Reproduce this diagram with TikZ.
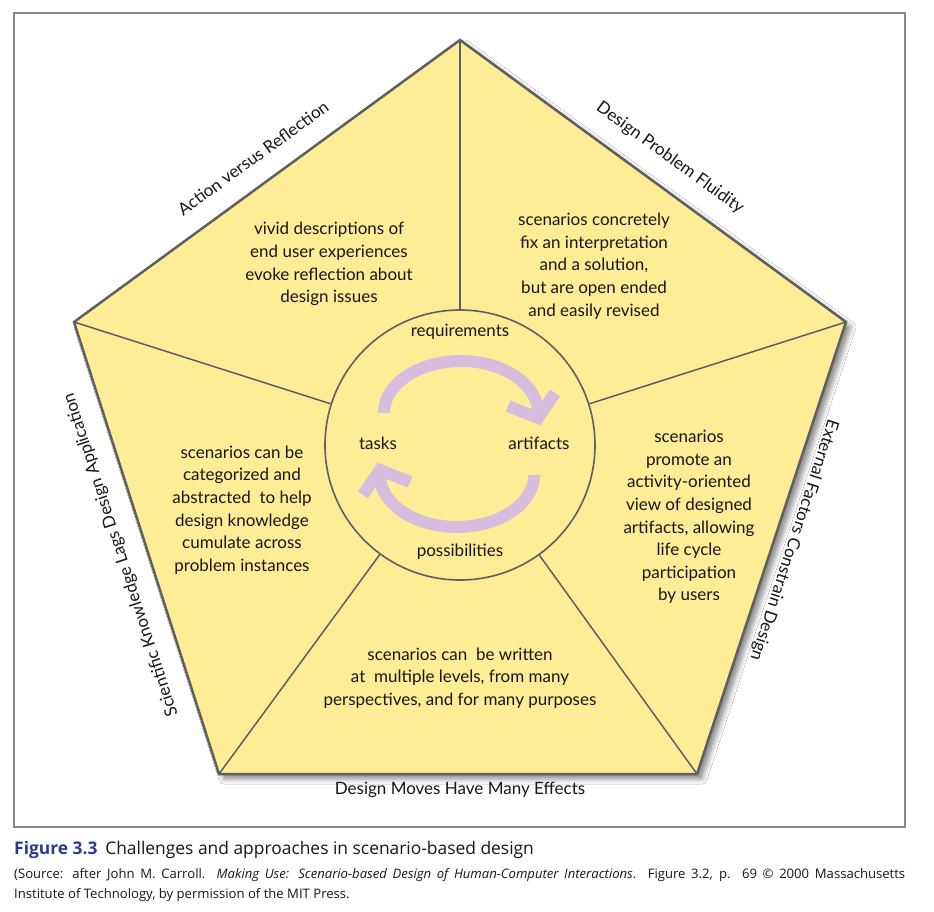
\documentclass[tikz,border=0pt]{standalone}
\usepackage{fontspec}
\setmainfont{Lato}
\newfontfamily\capfont{Open Sans}
\usetikzlibrary{shadows.blur}
\definecolor{pentfill}{RGB}{255,236,150}
\definecolor{edgegray}{RGB}{95,95,95}
\definecolor{framegray}{RGB}{135,135,135}
\definecolor{cyclepurple}{RGB}{216,190,222}
\definecolor{figblue}{RGB}{40,60,150}
\definecolor{txt}{RGB}{25,22,23}
\begin{document}
\begin{tikzpicture}[x=1pt,y=-1pt,
  body/.style={font=\fontsize{17}{22.6}\selectfont, text=txt, align=center, inner sep=0pt},
  edgelabel/.style={font=\fontsize{17}{20}\selectfont, text=txt, inner sep=0pt},
  spoke/.style={draw=edgegray, line width=1.5pt},
  cyclebar/.style={draw=cyclepurple, line width=12pt},
  capstyle/.style={font=\capfont\fontsize{17.4}{20}\selectfont, text=txt, inner sep=0pt},
  srcstyle/.style={font=\capfont\fontsize{13.1}{20}\selectfont, text=txt, inner sep=0pt, align=left},
]
\useasboundingbox[fill=white] (0,0) rectangle (934,911);
\draw[line width=2pt, draw=framegray] (14,13) rectangle (905,827);

\coordinate (vT) at (460,40);
\coordinate (vR) at (846,322);
\coordinate (vBR) at (697,774);
\coordinate (vBL) at (219,774);
\coordinate (vL) at (74,322);

\fill[pentfill, blur shadow={shadow xshift=5pt, shadow yshift=-5pt, shadow blur radius=5pt, shadow opacity=45}]
  (vT) -- (vR) -- (vBR) -- (vBL) -- (vL) -- cycle;

\node[circle, minimum size=270pt, inner sep=0pt, draw=edgegray, fill=pentfill, line width=1.6pt] (hub) at (460,445) {};

\draw[spoke] (vT) -- (hub);
\draw[spoke] (vR) -- (hub);
\draw[spoke] (vBR) -- (hub);
\draw[spoke] (vBL) -- (hub);
\draw[spoke] (vL) -- (hub);

\draw[draw=edgegray, line width=2.5pt, line join=miter] (vT) -- (vR) -- (vBR) -- (vBL) -- (vL) -- cycle;

% cycle arrows
\draw[cyclebar] plot[domain=180:360, samples=60] ({461+77*cos(\x)},{413+52*sin(\x)});
\draw[cyclebar, line join=miter] (508,406) -- (538,418) -- (555,393);
\draw[cyclebar] plot[domain=0:180, samples=60] ({457+77*cos(\x)},{475+52*sin(\x)});
\draw[cyclebar, line join=miter] (410,482) -- (380,470) -- (363,495);

% circle labels
\node[body] (req) at (460,332) {requirements};
\node[body] (tasks) at (378,443) {tasks};
\node[body] (arts) at (539,443) {artifacts};
\node[body] (poss) at (460,552) {possibilities};

% segment texts
\node[body] (tl) at (329,264) {vivid descriptions of\\end user experiences\\evoke reflection about\\design issues};
\node[body] (tr) at (594,266) {scenarios concretely\\fix an interpretation\\and a solution,\\but are open ended\\and easily revised};
\node[body] (rt) at (689,517) {scenarios\\promote an\\activity-oriented\\view of designed\\artifacts, allowing\\life cycle\\participation\\by users};
\node[body] (bt) at (460,678) {scenarios can\ \ be written\\at\ \ multiple levels, from many\\perspectives, and for many purposes};
\node[body] (lt) at (242,510) {scenarios can be\\categorized and\\abstracted\ \ to help\\design knowledge\\cumulate across\\problem instances};

% edge labels
\node[edgelabel, rotate=36] (eAR) at (253,158) {Action versus Reflection};
\node[edgelabel, rotate=-36] (eDP) at (670,158) {Design Problem Fluidity};
\node[edgelabel, rotate=-108] (eEF) at (794,540) {External Factors Constrain Design};
\node[edgelabel] (eDM) at (460,790) {Design Moves Have Many Effects};
\node[edgelabel, rotate=108] (eSK) at (121,555) {Scientific Knowledge Lags Design Application};

% caption
\node[capstyle, anchor=base west] (cap) at (14,854) {\textcolor{figblue}{\textbf{Figure 3.3}}\hspace{0.45em}Challenges and approaches in scenario-based design};
\node[srcstyle, anchor=base west] (src) at (14,898) {\makebox[891pt][s]{(Source: after John M. Carroll. \textit{Making Use: Scenario-based Design of Human-Computer Interactions}. Figure 3.2, p. 69 © 2000 Massachusetts}\\Institute of Technology, by permission of the MIT Press.};
\end{tikzpicture}
\end{document}
